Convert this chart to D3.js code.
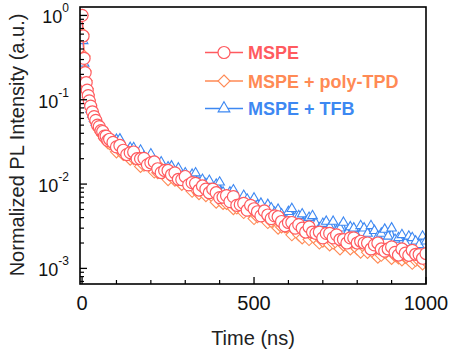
<!DOCTYPE html>
<html>
<head>
<meta charset="utf-8">
<script src="https://cdn.jsdelivr.net/npm/d3@7"></script>
<style>
  body { margin: 0; background: #fff; }
  svg { display: block; font-family: "Liberation Sans", Arial, sans-serif; }
</style>
</head>
<body>
<div id="chart"></div>
<script>
// time axis (ns)
const times = [0, 3, 6, 9, 12, 15, 18, 21, 25, 30, 35, 40, 45, 50, 55, 60, 65, 70, 75, 80,
  90, 100, 110, 120, 130, 140, 150, 160, 170, 180, 190, 200, 210, 220, 230, 240, 250, 260, 270, 280,
  290, 300, 310, 320, 330, 340, 350, 360, 370, 380, 390, 400, 410, 420, 430, 440, 450, 460, 470, 480,
  490, 500, 510, 520, 530, 540, 550, 560, 570, 580, 590, 600, 610, 620, 630, 640, 650, 660, 670, 680,
  690, 700, 710, 720, 730, 740, 750, 760, 770, 780, 790, 800, 810, 820, 830, 840, 850, 860, 870, 880,
  890, 900, 910, 920, 930, 940, 950, 960, 970, 980, 990, 1000];

const mspe = [1.00, 0.57, 0.31, 0.21, 0.16, 0.13, 0.112, 0.097, 0.084, 0.072, 0.063, 0.057, 0.050, 0.048, 0.043, 0.042, 0.037, 0.037, 0.033, 0.034,
  0.0312, 0.0276, 0.0287, 0.0252, 0.0224, 0.0236, 0.0240, 0.0200, 0.0200, 0.0202, 0.0169, 0.0179, 0.0183, 0.0152, 0.0137, 0.0145, 0.0145, 0.0129, 0.0136, 0.0114,
  0.0113, 0.0123, 0.0098, 0.0104, 0.0102, 0.0085, 0.0095, 0.0087, 0.0079, 0.0087, 0.0079, 0.0069, 0.0070, 0.0073, 0.0062, 0.0071, 0.0056, 0.0057, 0.0059, 0.0049,
  0.0056, 0.0051, 0.0047, 0.0042, 0.0048, 0.0043, 0.0039, 0.0042, 0.0041, 0.0036, 0.0032, 0.0035, 0.0035, 0.0030, 0.0033, 0.0030, 0.0027, 0.0031, 0.0027, 0.0026,
  0.0027, 0.0023, 0.0026, 0.0026, 0.0023, 0.0025, 0.0022, 0.0022, 0.0020, 0.0023, 0.0023, 0.0020, 0.0021, 0.0020, 0.0020, 0.0017, 0.0019, 0.0020, 0.0017, 0.0016,
  0.0017, 0.0018, 0.00155, 0.00144, 0.0017, 0.00152, 0.00143, 0.00164, 0.00147, 0.00146, 0.00132, 0.0015];

const polyTPD = [1.00, 0.60, 0.33, 0.22, 0.168, 0.135, 0.115, 0.099, 0.085, 0.072, 0.062, 0.054, 0.049, 0.044, 0.041, 0.038, 0.035, 0.033, 0.031, 0.030,
  0.0289, 0.0241, 0.0251, 0.0225, 0.0238, 0.0197, 0.0200, 0.0200, 0.0162, 0.0167, 0.0177, 0.0160, 0.0139, 0.0136, 0.0152, 0.0136, 0.0113, 0.0127, 0.0111, 0.0112,
  0.0099, 0.0106, 0.0096, 0.0082, 0.0086, 0.0077, 0.0085, 0.0073, 0.0077, 0.0071, 0.0061, 0.0068, 0.0059, 0.0059, 0.0063, 0.0051, 0.0052, 0.0055, 0.0046, 0.0050,
  0.0047, 0.0039, 0.0041, 0.0044, 0.0040, 0.0035, 0.0036, 0.0038, 0.0030, 0.0031, 0.0031, 0.0030, 0.0025, 0.0028, 0.0025, 0.0023, 0.0027, 0.0022, 0.0024, 0.0022,
  0.0020, 0.0021, 0.0023, 0.0019, 0.0020, 0.0020, 0.0017, 0.0019, 0.0019, 0.0017, 0.0019, 0.0017, 0.00156, 0.0018, 0.00155, 0.00166, 0.0015, 0.00136, 0.00143, 0.00155,
  0.00145, 0.00131, 0.00141, 0.00133, 0.00126, 0.00136, 0.00127, 0.00115, 0.00124, 0.00124, 0.00113, 0.00121];

const tfb = [1.00, 0.50, 0.27, 0.185, 0.142, 0.116, 0.100, 0.088, 0.077, 0.067, 0.060, 0.054, 0.050, 0.047, 0.045, 0.042, 0.040, 0.038, 0.036, 0.035,
  0.0306, 0.0338, 0.0341, 0.0277, 0.0231, 0.0270, 0.0269, 0.0218, 0.0251, 0.0211, 0.0182, 0.0227, 0.0186, 0.0166, 0.0182, 0.0139, 0.0159, 0.0163, 0.0135, 0.0154,
  0.0118, 0.0135, 0.0112, 0.0130, 0.0135, 0.0104, 0.0113, 0.0101, 0.0110, 0.0083, 0.0099, 0.0105, 0.0080, 0.0073, 0.0080, 0.0085, 0.0069, 0.0059, 0.0073, 0.0066,
  0.0058, 0.0068, 0.0056, 0.0059, 0.0048, 0.0057, 0.0052, 0.0046, 0.0050, 0.0044, 0.0037, 0.0047, 0.0051, 0.0040, 0.0042, 0.0044, 0.0035, 0.0040, 0.0042, 0.0034,
  0.0030, 0.0034, 0.0036, 0.0031, 0.0036, 0.0028, 0.0030, 0.0035, 0.0026, 0.0031, 0.0030, 0.0024, 0.0032, 0.0030, 0.0026, 0.0032, 0.0028, 0.0024, 0.0026, 0.0029,
  0.0024, 0.0030, 0.0022, 0.0023, 0.0025, 0.0020, 0.0024, 0.0023, 0.0021, 0.0019, 0.0024, 0.0021];

const seriesNames = ["MSPE", "MSPE + poly-TPD", "MSPE + TFB"];
const seriesColors = ["#ff5a5f", "#ff8a55", "#3d88f2"];
const xTicks = [0, 500, 1000];
const yTicks = [1, 0.1, 0.01, 0.001];

const W = 450, H = 351;
const margin = {top: 7, right: 24, bottom: 67, left: 80};
const width = W - margin.left - margin.right,
  height = H - margin.top - margin.bottom;

const svg = d3.select("#chart").append("svg")
  .attr("width", W)
  .attr("height", H);

const x = d3.scaleLinear().domain([-6, 1000]).range([margin.left, margin.left + width]);
const y = d3.scaleLog().domain([Math.pow(10, -3.185), Math.pow(10, 0.1)]).range([margin.top + height, margin.top]);

svg.append("clipPath").attr("id", "plot-clip")
  .append("rect")
  .attr("x", margin.left).attr("y", margin.top)
  .attr("width", width).attr("height", height);

const diamond = "M0,-6L6,0L0,6L-6,0Z";
const triangle = d3.symbol().type(d3.symbolTriangle).size(40)();
const markerPath = [null, diamond, triangle];

const plot = svg.append("g").attr("clip-path", "url(#plot-clip)");
const allSeries = [mspe, polyTPD, tfb];
const line = d3.line().x((d, i) => x(times[i])).y(d => y(d));

// draw TFB first, MSPE on top
[2, 1, 0].forEach(k => {
  const vals = allSeries[k];
  const g = plot.append("g");
  g.append("path")
    .attr("d", line(vals))
    .attr("fill", "none")
    .attr("stroke", seriesColors[k])
    .attr("stroke-width", 1.3);
  const pts = g.selectAll("g.pt").data(vals).enter().append("g")
    .attr("transform", (d, i) => `translate(${x(times[i])},${y(d)})`);
  if (k === 0) {
    pts.append("circle").attr("r", 6).attr("fill", "#fff")
      .attr("stroke", seriesColors[k]).attr("stroke-width", 1.2);
  } else {
    pts.append("path").attr("d", markerPath[k]).attr("fill", "#fff")
      .attr("stroke", seriesColors[k]).attr("stroke-width", 1.1);
  }
});

// frame
svg.append("rect")
  .attr("x", margin.left).attr("y", margin.top)
  .attr("width", width).attr("height", height)
  .attr("fill", "none").attr("stroke", "#000").attr("stroke-width", 1.6);

// x axis ticks (inward)
const xMinor = [100, 200, 300, 400, 600, 700, 800, 900];
const xAxis = svg.append("g").attr("transform", `translate(0,${margin.top + height})`);
xAxis.selectAll("line.major").data(xTicks).enter().append("line")
  .attr("x1", d => x(d)).attr("x2", d => x(d)).attr("y1", 0).attr("y2", -7)
  .attr("stroke", "#000").attr("stroke-width", 1.3);
xAxis.selectAll("line.minor").data(xMinor).enter().append("line")
  .attr("x1", d => x(d)).attr("x2", d => x(d)).attr("y1", 0).attr("y2", -4)
  .attr("stroke", "#000").attr("stroke-width", 1.2);
xAxis.selectAll("text").data(xTicks).enter().append("text")
  .attr("x", d => x(d)).attr("y", 26)
  .attr("text-anchor", "middle")
  .attr("font-size", 20)
  .attr("fill", "#111")
  .text(d => d);

// y axis ticks (inward), log minor ticks
const yMinor = [];
[0.0001, 0.001, 0.01, 0.1].forEach(dec => {
  for (let m = 2; m <= 9; m++) {
    const v = dec * m;
    if (v >= y.domain()[0] && v <= y.domain()[1]) yMinor.push(v);
  }
});
const yAxis = svg.append("g").attr("transform", `translate(${margin.left},0)`);
yAxis.selectAll("line.major").data(yTicks).enter().append("line")
  .attr("x1", 0).attr("x2", 7).attr("y1", d => y(d)).attr("y2", d => y(d))
  .attr("stroke", "#000").attr("stroke-width", 1.3);
yAxis.selectAll("line.minor").data(yMinor).enter().append("line")
  .attr("x1", 0).attr("x2", 4).attr("y1", d => y(d)).attr("y2", d => y(d))
  .attr("stroke", "#000").attr("stroke-width", 1.2);
const yLab = yAxis.selectAll("text").data(yTicks).enter().append("text")
  .attr("x", -11).attr("y", d => y(d) + 8)
  .attr("text-anchor", "end")
  .attr("fill", "#111");
yLab.append("tspan").attr("font-size", 18).text("10");
yLab.append("tspan").attr("font-size", 12).attr("dy", -11)
  .text(d => String(Math.round(Math.log10(d))));

// axis titles
svg.append("text")
  .attr("x", 253).attr("y", 345)
  .attr("text-anchor", "middle")
  .attr("font-size", 20)
  .attr("fill", "#222")
  .text("Time (ns)");
svg.append("text")
  .attr("transform", "translate(24,145) rotate(-90)")
  .attr("text-anchor", "middle")
  .attr("font-size", 20)
  .attr("fill", "#222")
  .text("Normalized PL Intensity (a.u.)");

// legend
const legend = svg.append("g");
const legendY = [52.5, 81, 108.5];
seriesNames.forEach((name, k) => {
  const g = legend.append("g").attr("transform", `translate(0,${legendY[k]})`);
  g.append("line").attr("x1", 205).attr("x2", 243).attr("y1", 0).attr("y2", 0)
    .attr("stroke", seriesColors[k]).attr("stroke-width", 1.5);
  if (k === 0) {
    g.append("circle").attr("cx", 224).attr("r", 6).attr("fill", "#fff")
      .attr("stroke", seriesColors[k]).attr("stroke-width", 1.2);
  } else {
    g.append("path").attr("transform", "translate(224,0)")
      .attr("d", k === 2 ? d3.symbol().type(d3.symbolTriangle).size(60)() : markerPath[k])
      .attr("fill", "#fff").attr("stroke", seriesColors[k]).attr("stroke-width", 1.1);
  }
  g.append("text").attr("x", 248).attr("y", 6.5)
    .attr("font-size", 18).attr("font-weight", "bold")
    .attr("fill", seriesColors[k])
    .text(name);
});
</script>
</body>
</html>
